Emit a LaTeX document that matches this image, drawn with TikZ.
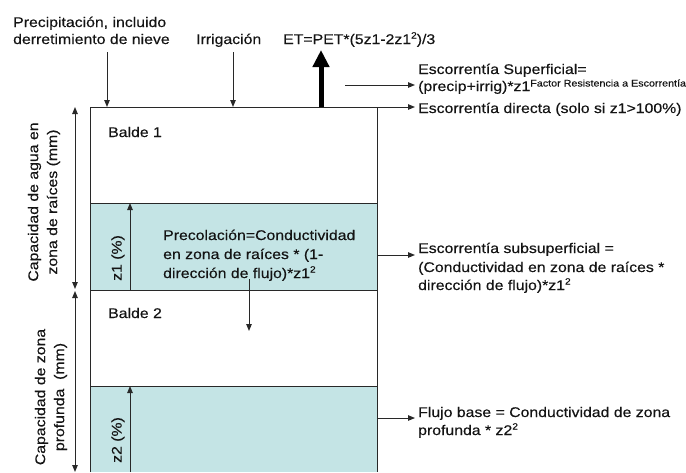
\documentclass[tikz,border=0pt]{standalone}
\usepackage{fontspec}
\setmainfont{Liberation Sans}[FakeStretch=1.13,FakeBold=0.3]
\usetikzlibrary{arrows.meta}
\definecolor{tealfill}{RGB}{196,228,229}
\definecolor{ln}{RGB}{40,40,40}
\definecolor{tx}{RGB}{20,20,20}
\newcommand\supsm[1]{\raisebox{5.5pt}{\fontsize{9}{9}\selectfont #1}}
\newcommand\supfac[1]{\raisebox{4.5pt}{\fontsize{9.5}{10}\selectfont #1}}
\begin{document}
\begin{tikzpicture}[x=1pt,y=-1pt,
  txt/.style={anchor=base west, inner sep=0pt, font=\fontsize{14}{18}\selectfont, text=tx},
  vlab/.style={rotate=90, align=center, inner sep=0pt, font=\fontsize{14}{19}\selectfont, text=tx},
  edge/.style={draw=ln, line width=1pt},
  arr/.style={draw=ln, line width=1pt, -{Triangle[width=5.5pt,length=7pt]}},
  darr/.style={draw=ln, line width=1pt, {Triangle[width=5.5pt,length=7pt]}-{Triangle[width=5.5pt,length=7pt]}},
  thick arr/.style={draw=black, line width=5pt, -{Triangle[width=16pt,length=17pt]}}
]
\useasboundingbox (0,0) rectangle (686,472);

% bucket corners and levels
\coordinate (TL) at (90,107);
\coordinate (TR) at (377,107);
\coordinate (BL) at (90,472);
\coordinate (BR) at (377,472);

% teal water levels
\fill[tealfill] (90,203) rectangle (377,290);
\fill[tealfill] (90,386) rectangle (377,472);

% bucket outline
\draw[edge] (BL) -- (TL) -- (TR) -- (BR);
\coordinate (L1a) at (90,203); \coordinate (L1b) at (377,203);
\coordinate (L2a) at (90,290); \coordinate (L2b) at (377,290);
\coordinate (L3a) at (90,386); \coordinate (L3b) at (377,386);
\draw[edge] (L1a) -- (L1b);
\draw[edge] (L2a) -- (L2b);
\draw[edge] (L3a) -- (L3b);

% top texts
\node[txt] (prec1) at (13,27) {Precipitación, incluido};
\node[txt] (prec2) at (13,44) {derretimiento de nieve};
\node[txt] (irr) at (196,44) {Irrigación};
\node[txt] (et) at (283,44) {ET=PET*(5z1-2z1\supsm{2})/3};

\coordinate (precTop) at (107,52); \coordinate (precBot) at (107,107);
\coordinate (irrTop) at (233,52); \coordinate (irrBot) at (233,107);
\coordinate (etBot) at (321,107); \coordinate (etTop) at (321,50);
\draw[arr] (precTop) -- (precBot);
\draw[arr] (irrTop) -- (irrBot);
\draw[thick arr] (etBot) -- (etTop);

% right side outputs
\node[txt] (sup1) at (418,74) {Escorrentía Superficial=};
\node[txt] (sup2) at (418,91) {(precip+irrig)*z1\supfac{Factor Resistencia a Escorrentía}};
\coordinate (supS) at (345,85); \coordinate (supE) at (415,85);
\draw[arr] (supS) -- (supE);

\node[txt] (dir) at (418,113) {Escorrentía directa (solo si z1>100\%)};
\coordinate (dirE) at (415,107);
\draw[arr] (TR) -- (dirE);

\node[txt] (ss1) at (418,253) {Escorrentía subsuperficial =};
\node[txt] (ss2) at (418,272) {(Conductividad en zona de raíces *};
\node[txt] (ss3) at (418,290) {dirección de flujo)*z1\supsm{2}};
\coordinate (ssS) at (377,255); \coordinate (ssE) at (415,255);
\draw[arr] (ssS) -- (ssE);

\node[txt] (fb1) at (418,417) {Flujo base = Conductividad de zona};
\node[txt] (fb2) at (418,435) {profunda * z2\supsm{2}};
\coordinate (fbS) at (377,418); \coordinate (fbE) at (415,418);
\draw[arr] (fbS) -- (fbE);

% bucket labels
\node[txt] (b1) at (108,137) {Balde 1};
\node[txt] (b2) at (108,318) {Balde 2};

% percolation
\node[txt] (pc1) at (163,240) {Precolación=Conductividad};
\node[txt] (pc2) at (163,259) {en zona de raíces * (1-};
\node[txt] (pc3) at (163,278) {dirección de flujo)*z1\supsm{2}};
\coordinate (pcS) at (249,279); \coordinate (pcE) at (249,331);
\draw[arr] (pcS) -- (pcE);

% z arrows
\coordinate (z1b) at (130,290); \coordinate (z1t) at (130,203);
\draw[arr] (z1b) -- (z1t);
\node[vlab] (z1lab) at (118,258) {z1 (\%)};
\coordinate (z2b) at (130,472); \coordinate (z2t) at (130,386);
\draw[arr] (z2b) -- (z2t);
\node[vlab] (z2lab) at (118,440) {z2 (\%)};

% capacity dimensions
\coordinate (c1t) at (75,107); \coordinate (c1b) at (75,289);
\draw[darr] (c1t) -- (c1b);
\coordinate (c2t) at (75,291); \coordinate (c2b) at (75,472);
\draw[darr] (c2t) -- (c2b);
\node[vlab] (cap1) at (44,202) {Capacidad de agua en\\zona de raíces (mm)};
\node[vlab] (cap2) at (51,397) {Capacidad de zona\\profunda\ \ (mm)};
\end{tikzpicture}
\end{document}
